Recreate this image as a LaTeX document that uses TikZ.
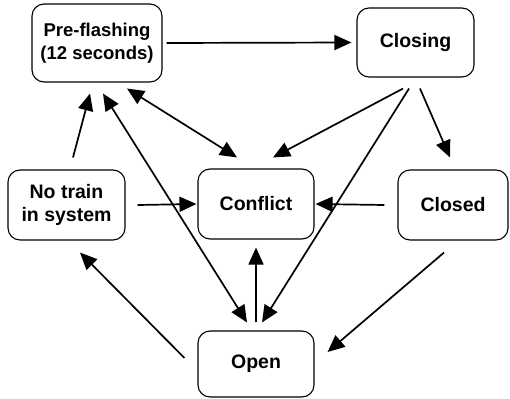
\documentclass[tikz,border=0pt]{standalone}
\usepackage{fontspec}
\setmainfont{Liberation Sans}
\usetikzlibrary{arrows.meta}

\tikzset{
	state/.style={draw, line width=1.1pt, rounded corners=12pt, align=center, inner sep=0pt,
		font=\fontsize{19.5}{23}\selectfont\bfseries},
	arr/.style={line width=1.7pt, -{Triangle[length=17pt,width=15pt]}},
	darr/.style={line width=1.7pt, {Triangle[length=17pt,width=15pt]}-{Triangle[length=17pt,width=15pt]}}
}

\begin{document}
\begin{tikzpicture}[x=1pt, y=-1pt]
	\useasboundingbox (0,0) rectangle (510,398);

	\node[state, minimum width=130pt, minimum height=78pt, font=\fontsize{18.5}{23}\selectfont\bfseries] (pre) at (97,43) {Pre-flashing\\(12 seconds)};
	\node[state, minimum width=117pt, minimum height=69pt] (closing) at (415.5,42.5) {Closing};
	\node[state, minimum width=117pt, minimum height=70pt] (notrain) at (66.5,205) {No train\\in system};
	\node[state, minimum width=116pt, minimum height=70pt] (conflict) at (256,204) {Conflict};
	\node[state, minimum width=110pt, minimum height=70pt] (closed) at (453,205) {Closed};
	\node[state, minimum width=116pt, minimum height=66pt] (open) at (256,364) {Open};

	% from the top row
	\draw[arr] ([xshift=4pt]pre.east) -- ([xshift=-5pt]closing.west);
	\draw[arr] ([xshift=-12.5pt,yshift=-11pt]closing.south) -- ([xshift=17pt,yshift=11pt]conflict.north);
	\draw[arr] ([xshift=-6.5pt,yshift=-11pt]closing.south) -- ([xshift=6pt,yshift=8pt]open.north);
	\draw[arr] ([xshift=4.5pt,yshift=-11pt]closing.south) -- ([xshift=-3pt,yshift=12pt]closed.north);
	\draw[darr] ([xshift=30pt,yshift=-6pt]pre.south) -- ([xshift=-19pt,yshift=11pt]conflict.north);
	\draw[darr] ([xshift=6pt,yshift=-11pt]pre.south) -- ([xshift=-9pt,yshift=8pt]open.north);

	% middle row
	\draw[arr] ([xshift=6.5pt,yshift=12pt]notrain.north) -- ([xshift=-7pt,yshift=-11pt]pre.south);
	\draw[arr] ([xshift=12pt]notrain.east) -- ([xshift=-1pt]conflict.west);
	\draw[arr] ([xshift=-13pt]closed.west) -- ([xshift=1pt]conflict.east);
	\draw[arr] ([xshift=-9pt,yshift=-12pt]closed.south) -- ([xshift=13pt,yshift=12pt]open.east);

	% from open
	\draw[arr] ([xshift=-13pt,yshift=6pt]open.west) -- ([xshift=13.5pt,yshift=-12pt]notrain.south);
	\draw[arr] ([yshift=8pt]open.north) -- ([yshift=-8pt]conflict.south);
\end{tikzpicture}
\end{document}
